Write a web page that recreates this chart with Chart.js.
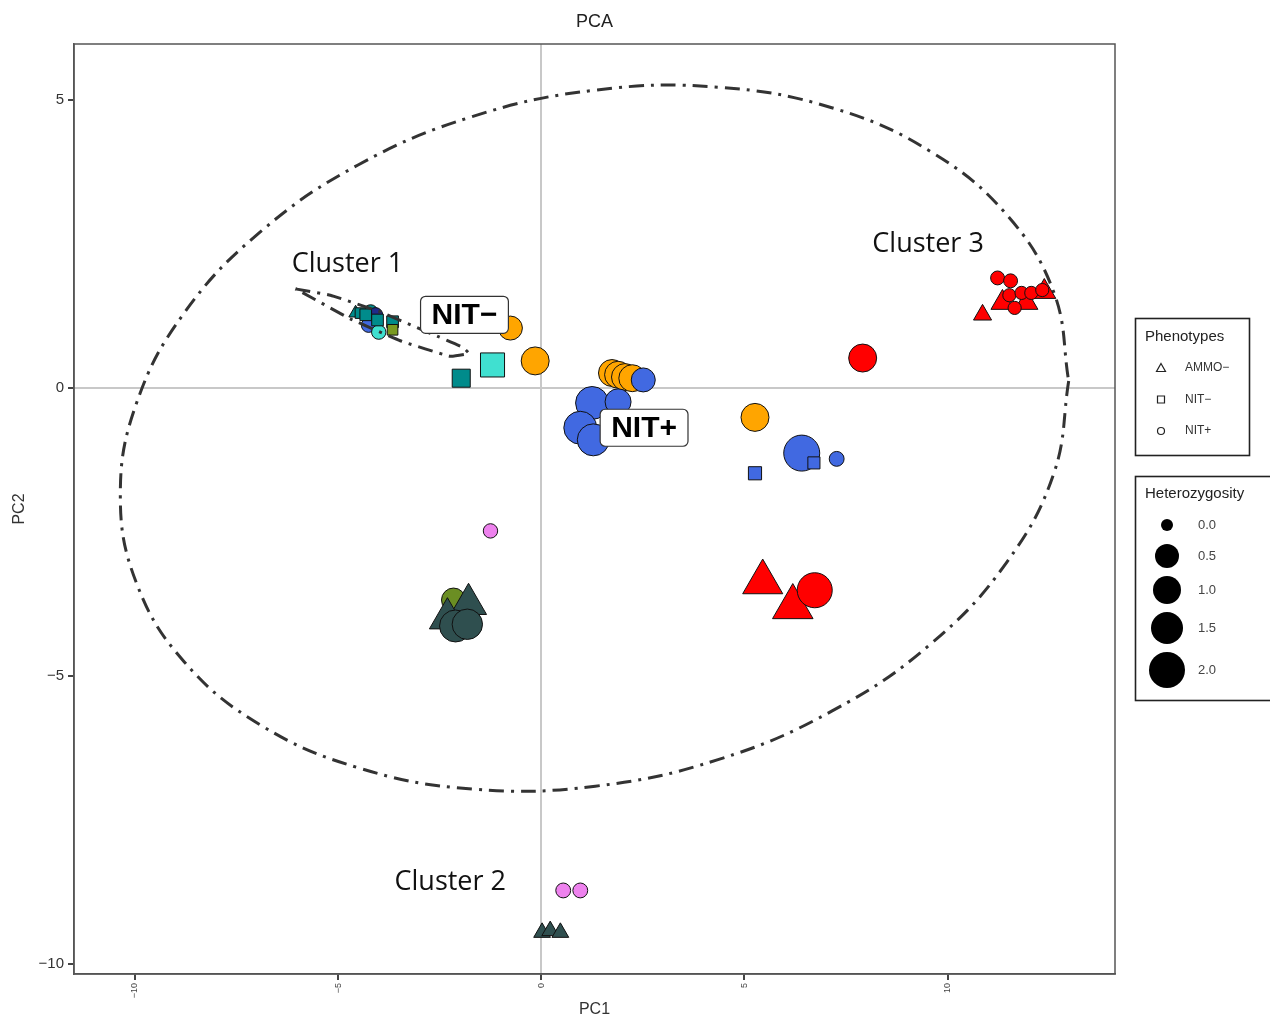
<!DOCTYPE html>
<html lang="en">
<head>
    <meta charset="UTF-8">
    <title>PCA</title>
    <script src="https://cdn.jsdelivr.net/npm/chart.js"></script>
    <style>
        body { margin: 0; background: #fff; }
        #wrap { width: 1270px; height: 1021px; position: relative; }
    </style>
</head>
<body>
<div id="wrap"><canvas id="pca"></canvas></div>

<script>
    // tick values
    const xTicks = [-10, -5, 0, 5, 10];
    const yTicks = [-10, -5, 0, 5];

    // legend content
    const phenoLabels = ["AMMO\u2212", "NIT\u2212", "NIT+"];
    const phenoShapes = ["triangle", "rect", "circle"];
    const hetBreaks = [0.0, 0.5, 1.0, 1.5, 2.0];
    const hetRadii = [6, 12, 14, 16, 18];

    // points: [PC1, PC2, heterozygosity]
    const tealSquares = [[-4.45, 1.30, 0], [-4.32, 1.27, 0.05], [-4.03, 1.18, 0.05], [-3.66, 1.15, 0.05], [-1.97, 0.17, 0.35]];
    const turquoiseSquares = [[-1.20, 0.40, 0.9]];
    const oliveSquares = [[-3.66, 1.01, 0]];
    const tealTriangles = [[-4.57, 1.30, 0]];
    const tealCircles = [[-4.20, 1.32, 0.1]];
    const navyCircles = [[-4.08, 1.27, 0.1]];
    const clumpBlueCircles = [[-4.25, 1.09, 0.1]];
    const turquoiseCircles = [[-4.00, 0.97, 0.1]];
    const orangeCircles = [[-0.76, 1.04, 0.5], [-0.15, 0.47, 1.0], [1.74, 0.26, 0.87], [1.89, 0.23, 0.87], [2.06, 0.19, 0.87], [2.24, 0.17, 0.87], [5.26, -0.51, 1.0]];
    const blueCircles = [[2.51, 0.14, 0.5], [1.25, -0.26, 1.62], [1.89, -0.24, 0.75], [0.96, -0.69, 1.62], [1.28, -0.90, 1.5], [6.41, -1.13, 2.0], [7.27, -1.23, 0.12]];
    const blueSquares = [[6.71, -1.30, 0.07], [5.26, -1.48, 0.12]];
    const redTriangles = [[11.35, 1.48, 0.35], [11.94, 1.48, 0.35], [12.38, 1.67, 0.35], [10.86, 1.27, 0.17], [5.45, -3.37, 1.95], [6.19, -3.80, 2.0]];
    const redCircles = [[7.91, 0.52, 1.0], [11.23, 1.91, 0.08], [11.55, 1.86, 0.08], [11.52, 1.61, 0.05], [11.82, 1.65, 0.05], [12.06, 1.65, 0.05], [12.33, 1.70, 0.05], [11.65, 1.39, 0.05], [6.73, -3.51, 1.88]];
    const violetCircles = [[-1.25, -2.48, 0.1], [0.54, -8.72, 0.12], [0.96, -8.72, 0.12]];
    const oliveCircles = [[-2.16, -3.68, 0.5]];
    const slateTriangles = [[-1.79, -3.75, 1.5], [-2.31, -4.00, 1.5], [0.02, -9.45, 0.12], [0.22, -9.42, 0.12], [0.47, -9.45, 0.12]];
    const slateCircles = [[-2.11, -4.13, 1.5], [-1.82, -4.10, 1.3]];

    // outline of the big ellipse and of cluster 1
    const bigEllipseX = [12.98, 12.62, 11.45, 9.59, 7.17, 4.35, 1.33, -1.70, -4.51, -6.93, -8.79, -9.96, -10.36, -9.96, -8.79, -6.93, -4.51, -1.70, 1.33, 4.35, 7.17, 9.59, 11.45, 12.62, 12.98];
    const bigEllipseY = [0.12, -1.47, -3.03, -4.44, -5.60, -6.45, -6.91, -6.96, -6.59, -5.84, -4.75, -3.39, -1.86, -0.26, 1.30, 2.70, 3.87, 4.71, 5.17, 5.22, 4.86, 4.10, 3.01, 1.65, 0.12];
    const cluster1X = [-6.05, -5.19, -3.96, -2.73, -1.94, -1.78, -2.24, -3.47, -4.70, -5.68, -6.05];
    const cluster1Y = [1.72, 1.61, 1.32, 0.95, 0.71, 0.60, 0.55, 0.82, 1.20, 1.58, 1.72];

    // text annotations (data coordinates)
    const clusterLabels = [
        { text: "Cluster 1", x: -4.77, y: 2.14 },
        { text: "Cluster 2", x: -2.24, y: -8.58 },
        { text: "Cluster 3", x: 9.52, y: 2.50 }
    ];
    const boxLabels = [
        { text: "NIT\u2212", x: -1.89, y: 1.27 },
        { text: "NIT+", x: 2.53, y: -0.69 }
    ];

    const FONT = '"Liberation Sans", Arial, sans-serif';
    const shapeFactor = { circle: 1, rect: 1.25, triangle: 1.3 };

    function hetToRadius(h) {
        for (let i = 1; i < hetBreaks.length; i++) {
            if (h <= hetBreaks[i]) {
                const t = (h - hetBreaks[i - 1]) / (hetBreaks[i] - hetBreaks[i - 1]);
                return hetRadii[i - 1] + t * (hetRadii[i] - hetRadii[i - 1]);
            }
        }
        return hetRadii[hetRadii.length - 1];
    }

    function fmt(v) {
        return v < 0 ? "\u2212" + Math.abs(v) : String(v);
    }

    function pointSet(name, pts, shape, color, order) {
        return {
            label: name,
            data: pts.map(p => ({ x: p[0], y: p[1], h: p[2] })),
            pointStyle: shape,
            backgroundColor: color,
            borderColor: "#111",
            borderWidth: 1,
            pointRadius: ctx => ctx.raw ? hetToRadius(ctx.raw.h) * shapeFactor[shape] : 0,
            showLine: false,
            order: order
        };
    }

    function outline(name, xs, ys, tension, order) {
        return {
            label: name,
            type: "line",
            data: xs.map((x, i) => ({ x: x, y: ys[i] })),
            borderColor: "#333",
            borderWidth: 3,
            borderDash: [15, 7, 3, 7],
            pointRadius: 0,
            fill: false,
            tension: tension,
            order: order
        };
    }

    const datasets = [
        outline("ellipse", bigEllipseX, bigEllipseY, 0.4, 100),
        outline("cluster1", cluster1X, cluster1Y, 0.1, 1),
        pointSet("olive circles", oliveCircles, "circle", "#6B8E23", 90),
        pointSet("slate triangles", slateTriangles, "triangle", "#2F4F4F", 89),
        pointSet("slate circles", slateCircles, "circle", "#2F4F4F", 88),
        pointSet("violet", violetCircles, "circle", "#EE82EE", 87),
        pointSet("red triangles", redTriangles, "triangle", "#FF0000", 86),
        pointSet("red circles", redCircles, "circle", "#FF0000", 85),
        pointSet("orange", orangeCircles, "circle", "#FFA500", 84),
        pointSet("blue circles", blueCircles, "circle", "#4169E1", 83),
        pointSet("blue squares", blueSquares, "rect", "#4169E1", 82),
        pointSet("teal triangles", tealTriangles, "triangle", "#008B8B", 81),
        pointSet("teal circles", tealCircles, "circle", "#008B8B", 80),
        pointSet("navy circles", navyCircles, "circle", "#1F2A8A", 79),
        pointSet("clump blue", clumpBlueCircles, "circle", "#4169E1", 78),
        pointSet("turquoise circles", turquoiseCircles, "circle", "#40E0D0", 77),
        pointSet("teal squares", tealSquares, "rect", "#008B8B", 76),
        pointSet("olive squares", oliveSquares, "rect", "#7A9A20", 75),
        pointSet("turquoise squares", turquoiseSquares, "rect", "#40E0D0", 74)
    ];

    function roundRect(ctx, x, y, w, h, r) {
        ctx.beginPath();
        ctx.moveTo(x + r, y);
        ctx.arcTo(x + w, y, x + w, y + h, r);
        ctx.arcTo(x + w, y + h, x, y + h, r);
        ctx.arcTo(x, y + h, x, y, r);
        ctx.arcTo(x, y, x + w, y, r);
        ctx.closePath();
    }

    const decorations = {
        id: "decorations",
        afterDatasetsDraw(chart) {
            const ctx = chart.ctx;
            const a = chart.chartArea;
            const xs = chart.scales.x, ys = chart.scales.y;
            ctx.save();

            // panel frame
            ctx.strokeStyle = "#555";
            ctx.lineWidth = 1.5;
            ctx.strokeRect(a.left, a.top, a.right - a.left, a.bottom - a.top);

            // title
            ctx.fillStyle = "#222";
            ctx.font = "18px " + FONT;
            ctx.textAlign = "center";
            ctx.textBaseline = "middle";
            ctx.fillText("PCA", (a.left + a.right) / 2, 22);

            // cluster labels
            ctx.font = '27px "Open Sans", sans-serif';
            ctx.fillStyle = "#111";
            clusterLabels.forEach(l => {
                ctx.fillText(l.text, xs.getPixelForValue(l.x), ys.getPixelForValue(l.y));
            });

            // boxed labels
            ctx.font = "bold 30px " + FONT;
            boxLabels.forEach(l => {
                const px = xs.getPixelForValue(l.x), py = ys.getPixelForValue(l.y);
                const w = ctx.measureText(l.text).width + 22, h = 37;
                roundRect(ctx, px - w / 2, py - h / 2, w, h, 5);
                ctx.fillStyle = "#fff";
                ctx.fill();
                ctx.strokeStyle = "#333";
                ctx.lineWidth = 1.2;
                ctx.stroke();
                ctx.fillStyle = "#000";
                ctx.fillText(l.text, px, py + 1);
            });

            // legend: phenotypes
            ctx.textAlign = "left";
            ctx.strokeStyle = "#222";
            ctx.lineWidth = 1.6;
            ctx.strokeRect(1135.5, 318.5, 114, 137);
            ctx.fillStyle = "#222";
            ctx.font = "15px " + FONT;
            ctx.fillText("Phenotypes", 1145, 337);
            ctx.font = "12px " + FONT;
            phenoLabels.forEach((t, i) => {
                const cy = 368 + i * 31.5;
                ctx.lineWidth = 1.2;
                ctx.strokeStyle = "#222";
                ctx.beginPath();
                if (phenoShapes[i] === "triangle") {
                    ctx.moveTo(1161, cy - 4.5); ctx.lineTo(1165.5, cy + 3.5); ctx.lineTo(1156.5, cy + 3.5); ctx.closePath();
                } else if (phenoShapes[i] === "rect") {
                    ctx.rect(1157.5, cy - 3.5, 7, 7);
                } else {
                    ctx.arc(1161, cy, 3.5, 0, Math.PI * 2);
                }
                ctx.stroke();
                ctx.fillStyle = "#333";
                ctx.fillText(t, 1185, cy);
            });

            // legend: heterozygosity
            ctx.strokeStyle = "#222";
            ctx.lineWidth = 1.6;
            ctx.strokeRect(1135.5, 476.5, 150, 224);
            ctx.fillStyle = "#222";
            ctx.font = "15px " + FONT;
            ctx.fillText("Heterozygosity", 1145, 494);
            const hetKeyY = [525, 556, 590, 628, 670];
            ctx.font = "13px " + FONT;
            hetBreaks.forEach((b, i) => {
                ctx.fillStyle = "#000";
                ctx.beginPath();
                ctx.arc(1167, hetKeyY[i], hetToRadius(b), 0, Math.PI * 2);
                ctx.fill();
                ctx.fillStyle = "#444";
                ctx.fillText(b.toFixed(1), 1198, hetKeyY[i]);
            });
            ctx.restore();
        }
    };

    const zeroGrid = c => (c.tick && c.tick.value === 0) ? "#c8c8c8" : "rgba(0,0,0,0)";

    new Chart(document.getElementById("pca"), {
        type: "scatter",
        data: { datasets: datasets },
        plugins: [decorations],
        options: {
            responsive: true,
            maintainAspectRatio: false,
            animation: false,
            layout: { padding: { top: 44, right: 155, left: 0, bottom: 0 } },
            plugins: { legend: { display: false }, tooltip: { enabled: false } },
            scales: {
                x: {
                    type: "linear",
                    min: -11.5,
                    max: 14.12,
                    afterBuildTicks: s => { s.ticks = xTicks.map(v => ({ value: v })); },
                    afterFit: s => { s.height = 47; },
                    ticks: {
                        callback: v => fmt(v),
                        minRotation: 90,
                        maxRotation: 90,
                        autoSkip: false,
                        padding: 3,
                        color: "#444",
                        font: { size: 9, family: FONT }
                    },
                    grid: { color: zeroGrid, lineWidth: 2, tickColor: "#444", tickLength: 6 },
                    border: { display: true, color: "#555", width: 1.5 },
                    title: { display: true, text: "PC1", color: "#333", font: { size: 16, family: FONT }, padding: { top: 0, bottom: 2 } }
                },
                y: {
                    type: "linear",
                    min: -10.17,
                    max: 5.97,
                    afterBuildTicks: s => { s.ticks = yTicks.map(v => ({ value: v })); },
                    afterFit: s => { s.width = 74; },
                    ticks: {
                        callback: v => fmt(v),
                        autoSkip: false,
                        padding: 4,
                        color: "#333",
                        font: { size: 15, family: FONT }
                    },
                    grid: { color: zeroGrid, lineWidth: 2, tickColor: "#444", tickLength: 6 },
                    border: { display: true, color: "#555", width: 1.5 },
                    title: { display: true, text: "PC2", color: "#333", font: { size: 16, family: FONT }, padding: { top: 10, bottom: 0 } }
                }
            }
        }
    });
</script>
</body>
</html>
